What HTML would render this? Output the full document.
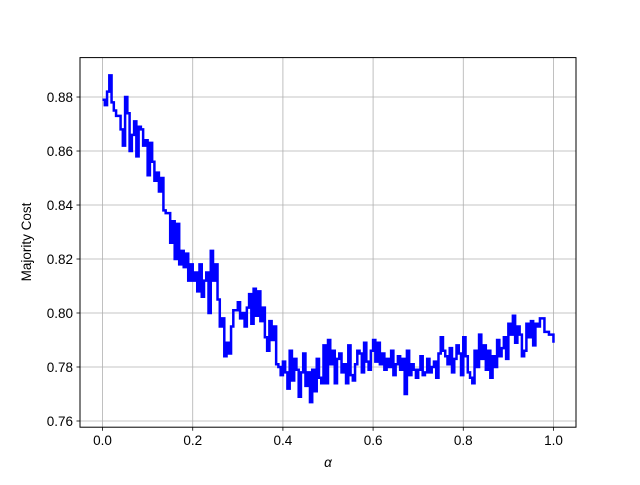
<!DOCTYPE html>
<html><head><meta charset="utf-8"><style>
body{margin:0;background:#fff}
svg text{font-family:"Liberation Sans","DejaVu Sans",sans-serif;font-size:13.5px;fill:#000}
</style></head><body>
<svg id="chart" width="640" height="480" xmlns="http://www.w3.org/2000/svg">
<rect width="640" height="480" fill="#fff"/>
<g id="grid"></g>
<g id="ticks"></g>
<path id="series" fill="none" stroke="#0000ff" stroke-width="2.5" stroke-linejoin="miter"/>
<rect x="80" y="57.6" width="496" height="369.6" fill="none" stroke="#000" stroke-width="1"/>
<text x="328" y="467" text-anchor="middle" font-style="italic">α</text>
<text transform="translate(31,242) rotate(-90)" text-anchor="middle">Majority Cost</text>
</svg>
<script>
const alphas = [0.000,0.005,0.010,0.015,0.020,0.025,0.030,0.035,0.040,0.045,
0.050,0.055,0.060,0.065,0.070,0.075,0.080,0.085,0.090,0.095,
0.100,0.105,0.110,0.115,0.120,0.125,0.130,0.135,0.140,0.145,
0.150,0.155,0.160,0.165,0.170,0.175,0.180,0.185,0.190,0.195,
0.200,0.205,0.210,0.215,0.220,0.225,0.230,0.235,0.240,0.245,
0.250,0.255,0.260,0.265,0.270,0.275,0.280,0.285,0.290,0.295,
0.300,0.305,0.310,0.315,0.320,0.325,0.330,0.335,0.340,0.345,
0.350,0.355,0.360,0.365,0.370,0.375,0.380,0.385,0.390,0.395,
0.400,0.405,0.410,0.415,0.420,0.425,0.430,0.435,0.440,0.445,
0.450,0.455,0.460,0.465,0.470,0.475,0.480,0.485,0.490,0.495,
0.500,0.505,0.510,0.515,0.520,0.525,0.530,0.535,0.540,0.545,
0.550,0.555,0.560,0.565,0.570,0.575,0.580,0.585,0.590,0.595,
0.600,0.605,0.610,0.615,0.620,0.625,0.630,0.635,0.640,0.645,
0.650,0.655,0.660,0.665,0.670,0.675,0.680,0.685,0.690,0.695,
0.700,0.705,0.710,0.715,0.720,0.725,0.730,0.735,0.740,0.745,
0.750,0.755,0.760,0.765,0.770,0.775,0.780,0.785,0.790,0.795,
0.800,0.805,0.810,0.815,0.820,0.825,0.830,0.835,0.840,0.845,
0.850,0.855,0.860,0.865,0.870,0.875,0.880,0.885,0.890,0.895,
0.900,0.905,0.910,0.915,0.920,0.925,0.930,0.935,0.940,0.945,
0.950,0.955,0.960,0.965,0.970,0.975,0.980,0.985,0.990,0.995,1.000];
const costs = [0.879,0.877,0.882,0.888,0.878,0.875,0.873,0.873,0.868,0.862,
0.880,0.874,0.860,0.866,0.871,0.858,0.869,0.868,0.862,0.864,
0.851,0.863,0.856,0.849,0.852,0.845,0.850,0.838,0.837,0.837,
0.826,0.834,0.820,0.833,0.818,0.823,0.817,0.822,0.812,0.818,
0.812,0.815,0.808,0.818,0.806,0.812,0.815,0.800,0.823,0.812,
0.818,0.805,0.795,0.798,0.784,0.789,0.785,0.795,0.801,0.801,
0.804,0.798,0.800,0.795,0.802,0.807,0.796,0.809,0.799,0.808,
0.797,0.802,0.791,0.786,0.797,0.790,0.795,0.781,0.780,0.777,
0.782,0.778,0.772,0.786,0.775,0.783,0.779,0.769,0.778,0.785,
0.773,0.778,0.767,0.779,0.771,0.783,0.776,0.774,0.788,0.774,
0.790,0.781,0.786,0.774,0.783,0.785,0.778,0.781,0.774,0.788,
0.777,0.775,0.781,0.786,0.785,0.778,0.789,0.782,0.779,0.786,
0.790,0.782,0.789,0.781,0.785,0.779,0.783,0.780,0.786,0.777,
0.781,0.784,0.779,0.783,0.770,0.786,0.777,0.781,0.779,0.776,
0.779,0.784,0.777,0.778,0.783,0.778,0.780,0.782,0.776,0.785,
0.791,0.786,0.784,0.781,0.787,0.778,0.783,0.788,0.785,0.777,
0.791,0.784,0.778,0.776,0.774,0.786,0.780,0.792,0.783,0.788,
0.779,0.786,0.776,0.784,0.780,0.790,0.784,0.787,0.791,0.783,
0.796,0.792,0.799,0.789,0.795,0.792,0.784,0.786,0.796,0.791,
0.797,0.788,0.796,0.795,0.798,0.798,0.793,0.793,0.792,0.792,0.789];
const xTicks = [0.0,0.2,0.4,0.6,0.8,1.0];
const xTickLabels = ["0.0","0.2","0.4","0.6","0.8","1.0"];
const yTicks = [0.76,0.78,0.80,0.82,0.84,0.86,0.88];
const yTickLabels = ["0.76","0.78","0.80","0.82","0.84","0.86","0.88"];

const L=80,R=576,T=57.6,B=427.2;
const xMin=-0.05,xMax=1.05,yMin=0.7577,yMax=0.8946;
const sx=v=>L+(v-xMin)/(xMax-xMin)*(R-L);
const sy=v=>B-(v-yMin)/(yMax-yMin)*(B-T);
const NS="http://www.w3.org/2000/svg";
const grid=document.getElementById('grid'), ticks=document.getElementById('ticks');
function mk(tag,attrs,parent){const e=document.createElementNS(NS,tag);for(const k in attrs)e.setAttribute(k,attrs[k]);parent.appendChild(e);return e;}
xTicks.forEach((v,i)=>{
  const x=sx(v);
  const g=mk('line',{x1:x,x2:x,y1:T,y2:B,stroke:'#b0b0b0','stroke-width':0.8},grid);
  
  
  const t=mk('line',{x1:x,x2:x,y1:B,y2:B+3.5,stroke:'#000','stroke-width':0.8},ticks);
  
  
  const l=mk('text',{x:x,y:B+18,'text-anchor':'middle'},ticks);
  l.textContent=xTickLabels[i];
  
  
});
yTicks.forEach((v,i)=>{
  const y=sy(v);
  const g=mk('line',{x1:L,x2:R,y1:y,y2:y,stroke:'#b0b0b0','stroke-width':0.8},grid);
  
  
  const t=mk('line',{x1:L-3.5,x2:L,y1:y,y2:y,stroke:'#000','stroke-width':0.8},ticks);
  
  
  const l=mk('text',{x:L-7,y:y+5,'text-anchor':'end'},ticks);
  l.textContent=yTickLabels[i];
  
  
});
let d='';
alphas.forEach((a,i)=>{
  const x=sx(a),y=sy(costs[i]);
  if(i===0)d+='M'+x+' '+y;
  else d+=' H'+x+' V'+y;
});
document.getElementById('series').setAttribute('d',d);
</script>
</body></html>
